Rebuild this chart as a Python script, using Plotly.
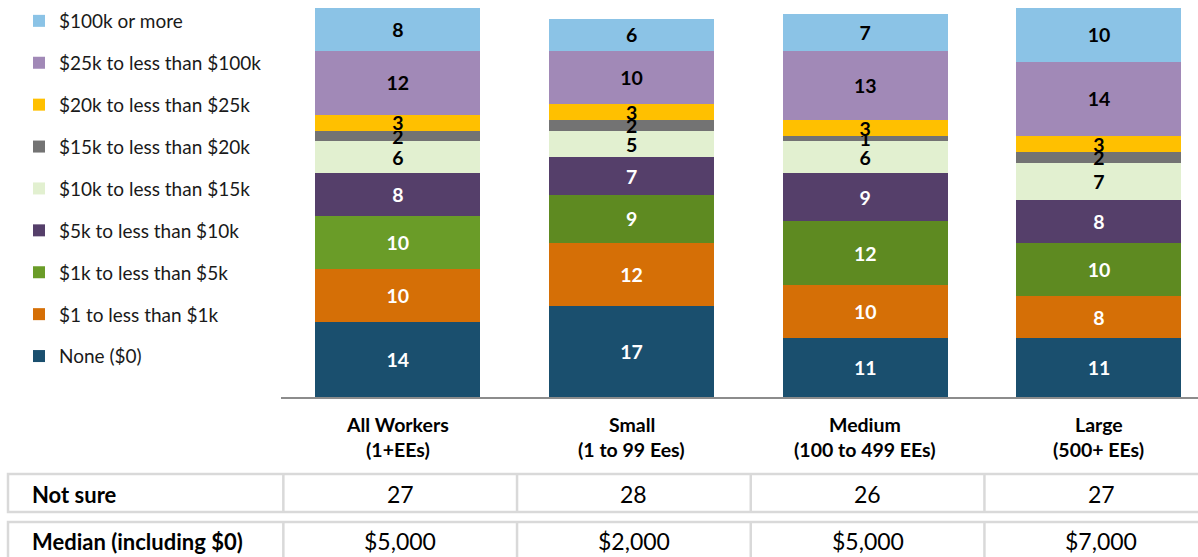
import plotly.graph_objects as go

# ---------------- data ----------------
cat_names = ["All Workers", "Small", "Medium", "Large"]
cat_sizes = ["(1+EEs)", "(1 to 99 Ees)", "(100 to 499 EEs)", "(500+ EEs)"]

series_names = [
    "None ($0)",
    "$1 to less than $1k",
    "$1k to less than $5k",
    "$5k to less than $10k",
    "$10k to less than $15k",
    "$15k to less than $20k",
    "$20k to less than $25k",
    "$25k to less than $100k",
    "$100k or more",
]

none_0 = [14, 17, 11, 11]
one_to_1k = [10, 12, 10, 8]
k1_to_5k = [10, 9, 12, 10]
k5_to_10k = [8, 7, 9, 8]
k10_to_15k = [6, 5, 6, 7]
k15_to_20k = [2, 2, 1, 2]
k20_to_25k = [3, 3, 3, 3]
k25_to_100k = [12, 10, 13, 14]
k100_plus = [8, 6, 7, 10]

series_values = [none_0, one_to_1k, k1_to_5k, k5_to_10k, k10_to_15k,
                 k15_to_20k, k20_to_25k, k25_to_100k, k100_plus]

row_labels = ["Not sure", "Median (including $0)"]
not_sure = [27, 28, 26, 27]
median_incl_0 = ["$5,000", "$2,000", "$5,000", "$7,000"]

# ---------------- styles ----------------
green_first = "#6A9C28"
green_rest = "#5E8A21"
colors = [
    "#1A4F6E",
    "#D56F06",
    [green_first, green_rest, green_rest, green_rest],
    "#553F6A",
    "#E2F0D0",
    "#737373",
    "#FFC000",
    "#A189B7",
    "#8BC3E6",
]
label_colors = ["#FFFFFF"] * 4 + ["#000000"] * 5

FONT = "Lato"
W, H = 1198, 557


def yp(px):
    return 1 - px / H


def xp(px):
    return px / W


x_idx = list(range(len(cat_names)))

fig = go.Figure()
n_series = len(series_names)
for i, (name, vals) in enumerate(zip(series_names, series_values)):
    fig.add_trace(go.Bar(
        x=x_idx,
        y=vals,
        name=name,
        legendgroup=name,
        legendrank=100 + (n_series - i),
        marker=dict(color=colors[i], line=dict(width=0)),
        text=vals,
        texttemplate="%{text}",
        textposition="inside",
        insidetextanchor="middle",
        textangle=0,
        constraintext="none",
        textfont=dict(family=FONT, size=19.5, color=label_colors[i], weight="bold"),
        hoverinfo="skip",
    ))

# ---------------- table & header ----------------
shapes = []
annotations = []
grid = "#D9D9D9"

# category header labels (two lines)
for i, (n, s) in enumerate(zip(cat_names, cat_sizes)):
    annotations.append(dict(x=i, xref="x", y=yp(424), yref="paper", text=n,
                            showarrow=False, xanchor="center", yanchor="middle",
                            font=dict(family=FONT, size=19.5, color="#000", weight="bold")))
    annotations.append(dict(x=i, xref="x", y=yp(449), yref="paper", text=s,
                            showarrow=False, xanchor="center", yanchor="middle",
                            font=dict(family=FONT, size=19.5, color="#000", weight="bold")))

# row boxes
row_tops = [474, 522]
row_bottoms = [512, 570]
row_centers = [494, 541]
for top, bot in zip(row_tops, row_bottoms):
    shapes.append(dict(type="rect", xref="paper", yref="paper",
                       x0=xp(8), x1=1.05, y0=yp(bot), y1=yp(top),
                       line=dict(color=grid, width=2.5), layer="below"))
    for i in x_idx:
        shapes.append(dict(type="line", xref="x", yref="paper",
                           x0=i - 0.5 + 0.01, x1=i - 0.5 + 0.01, y0=yp(bot), y1=yp(top),
                           line=dict(color=grid, width=2.5), layer="below"))

for lbl, cy in zip(row_labels, row_centers):
    annotations.append(dict(x=xp(30), xref="paper", y=yp(cy), yref="paper", text=lbl,
                            showarrow=False, xanchor="left", yanchor="middle",
                            font=dict(family=FONT, size=22, color="#000", weight="bold")))

for row_vals, cy in zip([not_sure, median_incl_0], row_centers):
    for i, v in enumerate(row_vals):
        annotations.append(dict(x=i + 0.01, xref="x", y=yp(cy), yref="paper", text=str(v),
                                showarrow=False, xanchor="center", yanchor="middle",
                                font=dict(family=FONT, size=23, color="#000")))

fig.update_layout(
    width=W, height=H,
    margin=dict(l=0, r=0, t=0, b=0),
    paper_bgcolor="white", plot_bgcolor="white",
    barmode="stack",
    bargap=0.294,
    font=dict(family=FONT, color="#000"),
    showlegend=True,
    legend=dict(
        x=xp(19), y=yp(2), xanchor="left", yanchor="top",
        traceorder="grouped",
        tracegroupgap=14.2,
        font=dict(family=FONT, size=19, color="#1A1A1A"),
        bgcolor="rgba(0,0,0,0)",
        itemclick=False, itemdoubleclick=False,
    ),
    xaxis=dict(
        domain=[xp(281), 1],
        range=[-0.5, -0.5 + (W - 281) / 233.7],
        showticklabels=False, ticks="",
        showgrid=False, zeroline=False,
        showline=True, linecolor="#8C8C8C", linewidth=2,
        fixedrange=True,
    ),
    yaxis=dict(
        domain=[yp(397), 1],
        range=[0, 397 / 5.3247],
        visible=False, showgrid=False, zeroline=False,
        fixedrange=True,
    ),
    shapes=shapes,
    annotations=annotations,
)

fig.write_html(
    "out.html",
    config={"displayModeBar": False},
    post_script="document.body.style.margin='0px';document.body.style.overflow='hidden';",
)
